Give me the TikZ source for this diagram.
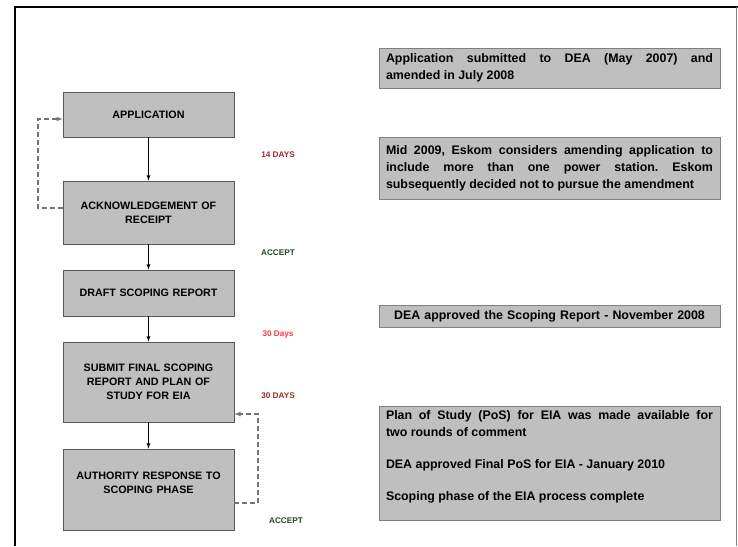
\documentclass[tikz,border=0pt]{standalone}
\usepackage{fontspec}
\setmainfont{Liberation Sans}
\definecolor{dayred}{HTML}{9A2A2A}
\definecolor{daylight}{HTML}{FF3B3B}
\definecolor{okgreen}{HTML}{1E4A22}
\tikzset{
  step box/.style={draw=black!65, line width=0.8pt, fill=gray!50, text width=158pt,
    align=center, minimum width=171pt, inner sep=0pt,
    font=\bfseries\fontsize{10.75}{14}\selectfont},
  note box/.style={draw=black!50, line width=0.8pt, fill=gray!50, text width=327pt,
    inner xsep=7pt, inner ysep=5pt, font=\frenchspacing\bfseries\fontsize{12.4}{17}\selectfont},
  days/.style={font=\bfseries\fontsize{8.2}{9}\selectfont},
  loop line/.style={-latex, black!55, line width=1.1pt, dash pattern=on 5pt off 3pt}
}
\begin{document}
\begin{tikzpicture}[x=1pt,y=-1pt]
            \useasboundingbox (0,0) rectangle (738,546);
            \draw [line width=2pt] (15,546) -- (15,7) -- (738,7);
            \draw [gray, line width=0.8pt] (736,7) -- (736,546);

            \node (1) [step box, minimum height=45pt] at (148.5,114.5) {APPLICATION};
            \node (2) [step box, minimum height=63pt, node distance=98pt, below of=1] {ACKNOWLEDGEMENT OF\\RECEIPT};
            \node (3) [step box, minimum height=46pt, node distance=80.5pt, below of=2] {DRAFT SCOPING REPORT};
            \node (4) [step box, minimum height=80pt, node distance=89pt, below of=3] {SUBMIT FINAL SCOPING\\REPORT AND PLAN OF\\STUDY FOR EIA};
            \node (5) [step box, minimum height=81pt, node distance=107.5pt, below of=4] {AUTHORITY RESPONSE TO\\SCOPING PHASE\\\mbox{}};

            \node (6) [note box, minimum height=40pt, align=justify] at (549.5,68) {Application submitted to DEA (May 2007) and\linebreak amended in July 2008};
            \node (7) [note box, minimum height=62pt, align=justify, node distance=100pt, below of=6] {Mid 2009, Eskom considers amending application to\linebreak include more than one power station. Eskom\linebreak subsequently decided not to pursue the amendment};
            \node (8) [note box, minimum height=22pt, inner ysep=2pt, align=center, node distance=148pt, below of=7] {DEA approved the Scoping Report - November 2008};
            \node (9) [note box, align=justify, node distance=147pt, below of=8] {\parbox[c][104pt][t]{327pt}{Plan of Study (PoS) for EIA was made available for\linebreak two rounds of comment\par\vspace{15pt}DEA approved Final PoS for EIA - January 2010\par\vspace{15pt}Scoping phase of the EIA process complete}};

            \node (10) [days, text=dayred] at (278,155) {14 DAYS};
            \node (11) [days, text=okgreen] at (278,253) {ACCEPT};
            \node (12) [days, text=daylight] at (278,334) {30 Days};
            \node (13) [days, text=dayred] at (278,396) {30 DAYS};
            \node (14) [days, text=okgreen] at (286,521) {ACCEPT};

            \coordinate (l1) at (38,208);
            \coordinate (l2) at (38,119);
            \coordinate (r1) at (258,503);
            \coordinate (r2) at (258,414);

            \draw [-latex, line width=0.8pt] (1) to (2);
            \draw [-latex, line width=0.8pt] (2) to (3);
            \draw [-latex, line width=0.8pt] (3) to (4);
            \draw [-latex, line width=0.8pt] (4) to (5);

            \draw [loop line] (2.west |- l1) -- (l1) -- (l2) -- (1.west |- l2);
            \draw [loop line] (5.east |- r1) -- (r1) -- (r2) -- (4.east |- r2);
\end{tikzpicture}
\end{document}
